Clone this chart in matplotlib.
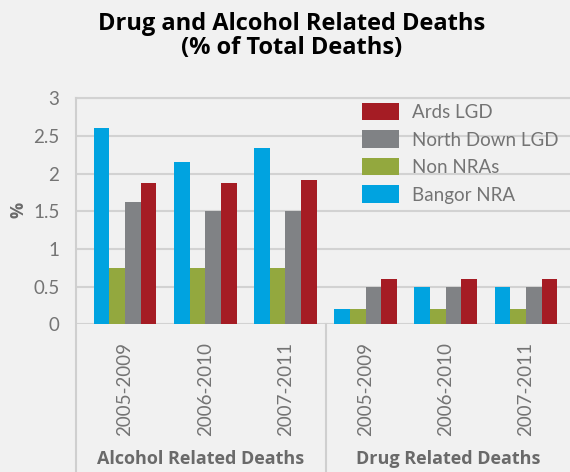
import matplotlib
matplotlib.use("Agg")
import matplotlib.pyplot as plt
from matplotlib.patches import Patch
import numpy as np

categories = ["2005-2009", "2006-2010", "2007-2011", "2005-2009", "2006-2010", "2007-2011"]
groups = ["Alcohol Related Deaths", "Drug Related Deaths"]
series_names = ["Bangor NRA", "Non NRAs", "North Down LGD", "Ards LGD"]
bangor_nra = [2.6, 2.15, 2.34, 0.2, 0.5, 0.5]
non_nras = [0.75, 0.75, 0.75, 0.2, 0.2, 0.2]
north_down = [1.62, 1.5, 1.5, 0.5, 0.5, 0.5]
ards = [1.87, 1.87, 1.92, 0.6, 0.6, 0.6]
yticks = [0, 0.5, 1, 1.5, 2, 2.5, 3]
ytick_labels = ["0", "0.5", "1", "1.5", "2", "2.5", "3"]

colors = ["#00a3e0", "#93a83e", "#808285", "#a51c24"]
bg = "#f1f1f1"
grid_c = "#d2d2d2"
txt_c = "#747474"
bold_c = "#6a6a6a"
bold_font = ['Open Sans', 'DejaVu Sans']

plt.rcParams['font.family'] = ['Lato', 'DejaVu Sans']

W, H = 570, 472
fig = plt.figure(figsize=(W / 100, H / 100), dpi=100, facecolor=bg)
ax = fig.add_axes([76 / W, (H - 324.3) / H, 1 - 76 / W, (324.3 - 98.3) / H])
ax.set_facecolor(bg)

x = np.arange(len(categories))
bw = 0.195
data = [bangor_nra, non_nras, north_down, ards]
for i, (vals, c) in enumerate(zip(data, colors)):
    ax.bar(x + (i - 1.5) * bw, vals, bw, color=c, zorder=3, linewidth=0)

ax.set_xlim(-0.6125, 5.55)
ax.set_ylim(0, 3)
ax.set_yticks(yticks)
ax.set_yticklabels(ytick_labels)
ax.yaxis.grid(True, color=grid_c, linewidth=1.5, zorder=0)
ax.set_axisbelow(True)
for s in ax.spines.values():
    s.set_visible(False)
ax.tick_params(axis='y', length=0, pad=12, labelsize=13.5, labelcolor=txt_c)
ax.tick_params(axis='x', length=0, pad=13, labelsize=13.5, labelcolor=txt_c)
ax.set_xticks(x)
ax.set_xticklabels(categories, rotation=90, va='top', ha='center')

ax.axhline(3, color=grid_c, linewidth=1.5, clip_on=False, zorder=0)

line_c = "#cfcfcf"
x_left = 76 / W
fig.add_artist(plt.Line2D([x_left, x_left], [0, (H - 98.3) / H], color=line_c, linewidth=1.5))
sep = ax.transData.transform((2.5, 0))
sep_x = fig.transFigure.inverted().transform(sep)[0]
fig.add_artist(plt.Line2D([sep_x, sep_x], [0, (H - 324.3) / H], color=line_c, linewidth=1.5))

g1x = (x_left + sep_x) / 2
g2x = (sep_x + 1.0) / 2
fig.text(g1x, (H - 459) / H, groups[0], ha='center', va='center', fontsize=13,
         fontweight='bold', color=bold_c, family=bold_font)
fig.text(g2x, (H - 459) / H, groups[1], ha='center', va='center', fontsize=13,
         fontweight='bold', color=bold_c, family=bold_font)

fig.text(18 / W, (H - 210) / H, "%", rotation=90, ha='center', va='center', fontsize=13,
         fontweight='bold', color=bold_c, family=bold_font)

fig.text(292 / W, (H - 24) / H, "Drug and Alcohol Related Deaths", ha='center', va='center',
         fontsize=17, fontweight='bold', color='black', family=bold_font)
fig.text(292 / W, (H - 48) / H, "(% of Total Deaths)", ha='center', va='center',
         fontsize=17, fontweight='bold', color='black', family=bold_font)

handles = [Patch(facecolor=c, edgecolor='none') for c in colors][::-1]
labels = series_names[::-1]
leg = ax.legend(handles, labels, loc='upper left', bbox_to_anchor=(362 / W, (H - 103) / H),
                bbox_transform=fig.transFigure, frameon=False, fontsize=13.5,
                handlelength=1.95, handleheight=1.05, labelspacing=0.5, handletextpad=0.7,
                borderaxespad=0, borderpad=0)
for t in leg.get_texts():
    t.set_color(txt_c)

fig.savefig("out.png", dpi=100, facecolor=bg)
